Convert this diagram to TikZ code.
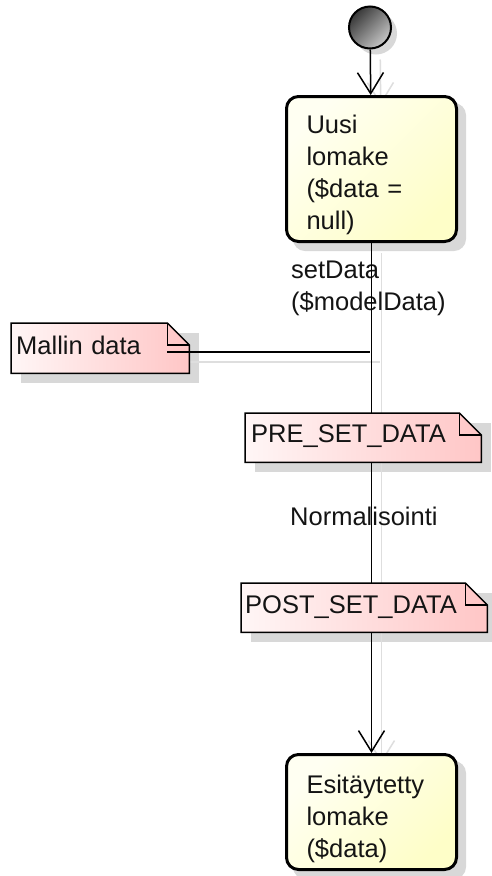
\documentclass[tikz,border=0pt]{standalone}
\usepackage{fontspec}
\setmainfont{Liberation Sans}
\usetikzlibrary{arrows.meta,calc}
\pgfdeclarelayer{shadowlayer}
\pgfdeclarelayer{filllayer}
\pgfsetlayers{shadowlayer,filllayer,main}
\definecolor{boxfill}{RGB}{254,254,200}
\definecolor{boxlight}{RGB}{255,255,242}
\definecolor{noteleft}{RGB}{255,246,246}
\definecolor{noteright}{RGB}{255,198,198}
\definecolor{shadowcol}{RGB}{216,216,216}
\definecolor{lineshadow}{RGB}{222,222,222}
\definecolor{inkcol}{RGB}{20,20,20}
\tikzset{
  txt/.style={font=\fontsize{25.5}{32}\selectfont, text=inkcol},
  statebox/.style={txt, rectangle, rounded corners=12pt, draw=black, line width=3pt,
    top color=boxlight, bottom color=boxfill, shading angle=45,
    anchor=north west, text width=130pt, inner xsep=20pt, inner ysep=0pt, align=left},
  notebox/.style={txt, rectangle, anchor=north west, inner ysep=0pt, align=left},
  edgelabel/.style={txt, anchor=base west, inner sep=0pt, text width=170pt, align=left},
  edge/.style={draw=black, line width=1.5pt},
  shadowedge/.style={draw=lineshadow, line width=1.5pt, transform canvas={shift={(10pt,-10pt)}}},
  openarrow/.style={-{Straight Barb[length=21pt,width=26pt,line width=1.5pt]}}
}
\newcommand\umlnote[2]{%
  \begin{pgfonlayer}{shadowlayer}
    \fill[shadowcol] ([shift={(10pt,-10pt)}]#1.south west) rectangle ([shift={(10pt,-10pt)}]#1.north east);
  \end{pgfonlayer}
  \begin{pgfonlayer}{filllayer}
    \path[left color=noteleft, right color=noteright, draw=black, line width=1.5pt]
      (#1.north west) -- ([xshift=-#2]#1.north east) -- ([yshift=-#2]#1.north east)
      -- (#1.south east) -- (#1.south west) -- cycle;
    \draw[black, line width=1.5pt] ([xshift=-#2]#1.north east) -- ++(0,-#2) -- ([yshift=-#2]#1.north east);
  \end{pgfonlayer}}
\begin{document}
\begin{tikzpicture}[x=1pt,y=1pt]
\begin{pgfonlayer}{shadowlayer}
  \fill[white] (0,0) rectangle (491,-876);
\end{pgfonlayer}
\useasboundingbox (0,0) rectangle (491,-876);

% initial state
\node[circle, draw=black, line width=2pt, minimum size=42pt, inner sep=0pt,
      top color=black!78, bottom color=black!22, shading angle=45] (init) at (370,-27.5) {};

% states
\node[statebox, text height=37pt, text depth=108pt] (s1) at (285,-95)
  {Uusi\\lomake\\(\$data =\\null)};
\node[statebox, text height=39pt, text depth=76pt] (s2) at (285,-753)
  {Esitäytetty\\lomake\\(\$data)};

% notes
\node[notebox, text width=168pt, inner xsep=5pt, text height=31pt, text depth=19pt] (n1) at (11,-323) {Mallin data};
\node[notebox, text width=224pt, inner xsep=6pt, text height=29pt, text depth=20pt] (pre) at (245,-413) {PRE\_SET\_DATA};
\node[notebox, text width=238pt, inner xsep=4pt, text height=30pt, text depth=19pt] (post) at (241,-583) {POST\_SET\_DATA};
\umlnote{n1}{22pt}
\umlnote{pre}{22pt}
\umlnote{post}{22pt}

% labels
\node[edgelabel] (lab1) at (291,-278) {setData\\(\$modelData)};
\node[edgelabel] (lab2) at (290,-525) {Normalisointi};

\coordinate (j) at (370,-352);
\coordinate (nstart) at ($(n1.north east)+(-22,-29)$);

% shadows
\begin{pgfonlayer}{shadowlayer}
  \fill[shadowcol] ([shift={(6pt,-6pt)}]init.center) circle (21pt);
  \fill[shadowcol, rounded corners=12pt] ([shift={(8pt,-8pt)}]s1.south west) rectangle ([shift={(8pt,-8pt)}]s1.north east);
  \fill[shadowcol, rounded corners=12pt] ([shift={(8pt,-8pt)}]s2.south west) rectangle ([shift={(8pt,-8pt)}]s2.north east);
  \draw[shadowedge, openarrow] (init) -- (s1);
  \draw[shadowedge] (s1.south) -- (s2.north);
  \draw[shadowedge, openarrow] ($(s2.north)+(0,40)$) -- (s2.north);
  \draw[shadowedge] (nstart) -- (j);
\end{pgfonlayer}

% connectors
\draw[edge, openarrow] (init) -- (s1);
\draw[edge] (s1.south) -- (s1.south |- pre.north);
\draw[edge] (s1.south |- pre.south) -- (s1.south |- post.north);
\draw[edge, openarrow] (s1.south |- post.south) -- (s2.north);
\draw[edge] (nstart) -- (j);
\end{tikzpicture}
\end{document}
